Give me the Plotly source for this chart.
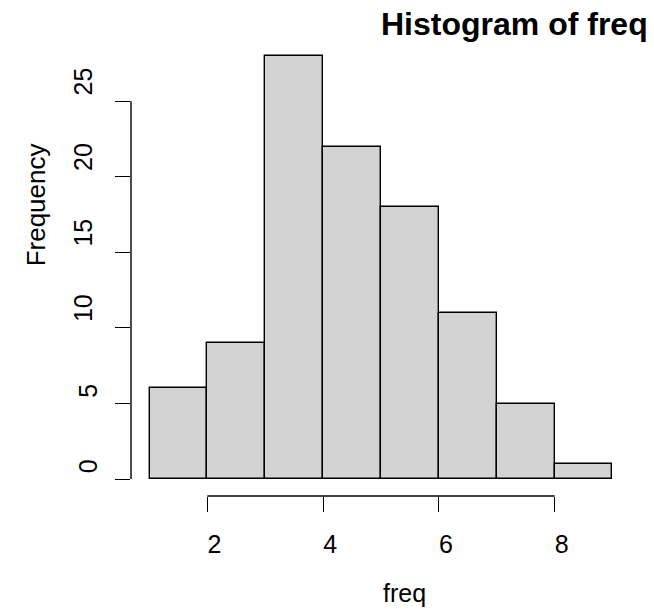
import plotly.graph_objects as go

# Data
breaks = [1, 2, 3, 4, 5, 6, 7, 8, 9]
counts = [6, 9, 28, 22, 18, 11, 5, 1]
x_ticks = [2, 4, 6, 8]
y_ticks_two_digit = [10, 15, 20, 25]
y_ticks_one_digit = [0, 5]
title_text = "Histogram of freq"
x_title = "freq"
y_title = "Frequency"

mids = [(breaks[i] + breaks[i + 1]) / 2 for i in range(len(counts))]
widths = [breaks[i + 1] - breaks[i] for i in range(len(counts))]

FONT = "Liberation Sans, Arial, Helvetica, sans-serif"
W, H = 654, 609
L, R, T, B = 131, 23, 39, 113
LW = 1.4

xr = [breaks[0] - 0.04 * (breaks[-1] - breaks[0]), breaks[-1] + 0.04 * (breaks[-1] - breaks[0])]
ymax = max(counts)
yr = [-0.04 * ymax, ymax * 1.04]

fig = go.Figure()
fig.add_trace(go.Bar(
    x=mids, y=counts, width=widths,
    marker=dict(color="#D3D3D3", line=dict(color="black", width=LW)),
    showlegend=False, hoverinfo="x+y",
))
# invisible trace so the secondary (single-digit label) axis is drawn
fig.add_trace(go.Scatter(x=[mids[0]], y=[0], yaxis="y2", mode="markers",
                         marker=dict(opacity=0), showlegend=False, hoverinfo="skip"))

all_y = sorted(y_ticks_one_digit + y_ticks_two_digit)

fig.update_layout(
    width=W, height=H,
    margin=dict(l=L, r=R, t=T, b=B, autoexpand=False),
    paper_bgcolor="white", plot_bgcolor="white",
    font=dict(family=FONT, size=25, color="black"),
    title=dict(text=f"<b>{title_text}</b>", x=381 / W, xanchor="left", xref="container",
               y=1 - 24 / H, yanchor="middle", yref="container",
               font=dict(family=FONT, size=32, color="black")),
    bargap=0,
    xaxis=dict(range=xr, showgrid=False, zeroline=False, showline=False,
               tickvals=x_ticks, ticktext=[str(v) for v in x_ticks],
               ticks="outside", ticklen=15, tickwidth=LW, tickcolor="black",
               ticklabelshift=7, ticklabelstandoff=11,
               tickfont=dict(family=FONT, size=25)),
    yaxis=dict(range=yr, showgrid=False, zeroline=False, showline=False,
               tickvals=all_y,
               ticktext=[str(v) if v in y_ticks_two_digit else "" for v in all_y],
               ticks="outside", ticklen=15, tickwidth=LW, tickcolor="black",
               tickangle=-90, ticklabelshift=-16, ticklabelstandoff=13,
               tickfont=dict(family=FONT, size=25)),
    yaxis2=dict(range=yr, overlaying="y", side="left", showgrid=False, zeroline=False,
                showline=False, tickvals=y_ticks_one_digit,
                ticktext=[str(v) for v in y_ticks_one_digit],
                ticks="", ticklen=15, tickangle=-90, ticklabelshift=-9,
                ticklabelstandoff=13 + 15, tickfont=dict(family=FONT, size=25)),
    shapes=[
        dict(type="line", xref="paper", yref="y", x0=0, x1=0,
             y0=all_y[0], y1=all_y[-1], line=dict(color="black", width=LW)),
        dict(type="line", xref="x", yref="paper", x0=x_ticks[0], x1=x_ticks[-1],
             y0=0, y1=0, line=dict(color="black", width=LW)),
    ],
    annotations=[
        dict(text=x_title, xref="paper", yref="paper", x=0.5, xanchor="left",
             y=(496 - 609) / 457, yanchor="bottom", showarrow=False,
             font=dict(family=FONT, size=25)),
        dict(text=y_title, xref="paper", yref="paper", x=(36 - L) / 500, xanchor="center",
             y=0.497, yanchor="bottom", textangle=-90, showarrow=False,
             font=dict(family=FONT, size=26)),
    ],
)

fig.write_html("out.html")
